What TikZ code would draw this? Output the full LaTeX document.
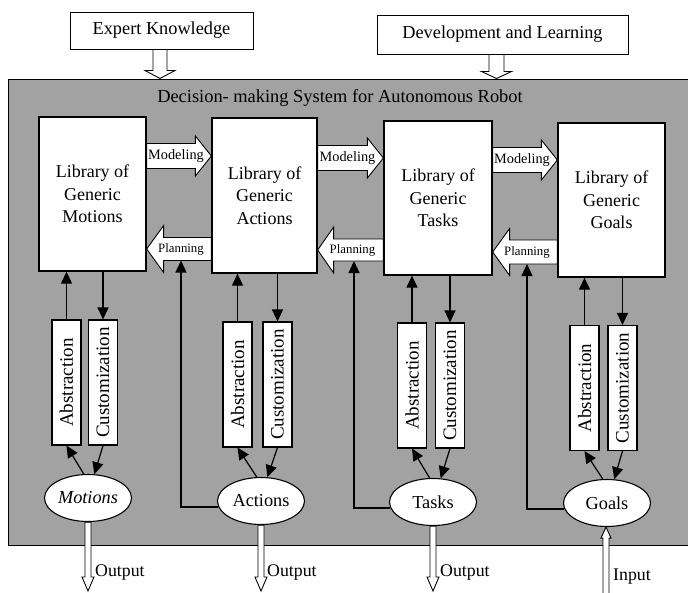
\documentclass[tikz,border=0pt]{standalone}
\usepackage{fontspec}
\usepackage{graphicx}
\setmainfont{Liberation Serif}
\usetikzlibrary{arrows.meta,calc,shapes.geometric}
\definecolor{panelgray}{RGB}{162,162,162}

% open block arrow lying horizontally: tail, tip, signed head length, shaft half-height, head half-height
\newcommand\hblock[5]{%
  \draw[blk] ($(#1)+(0,-#4)$) -- ($(#2)+(#3,-#4)$) -- ($(#2)+(#3,-#5)$) -- (#2)
    -- ($(#2)+(#3,#5)$) -- ($(#2)+(#3,#4)$) -- ($(#1)+(0,#4)$) -- cycle;}
% open block arrow standing vertically: tail, tip, signed head length, shaft half-width, head half-width
\newcommand\vblock[5]{%
  \draw[blk] ($(#1)+(-#4,0)$) -- ($(#2)+(-#4,#3)$) -- ($(#2)+(-#5,#3)$) -- (#2)
    -- ($(#2)+(#5,#3)$) -- ($(#2)+(#4,#3)$) -- ($(#1)+(#4,0)$) -- cycle;}

\begin{document}
\begin{tikzpicture}[x=1pt,y=-1pt,
  blk/.style={draw=black,fill=white,line width=0.9pt,line join=miter},
  srcbox/.style={draw,fill=white,line width=0.9pt,inner sep=0pt,font=\fontsize{18.3}{22}\selectfont},
  libbox/.style={draw,fill=white,line width=1.3pt,inner sep=0pt,align=center,
    minimum width=107pt,minimum height=154pt,font=\fontsize{18}{22.5}\selectfont},
  vbox/.style={draw,fill=white,line width=1.1pt,inner sep=0pt,
    minimum width=29pt,minimum height=125pt,font=\fontsize{19}{22}\selectfont},
  ell/.style={draw,fill=white,ellipse,line width=1.1pt,inner sep=0pt,
    minimum width=87pt,minimum height=47pt,font=\fontsize{18.3}{22}\selectfont},
  link/.style={line width=1.2pt,-{Triangle[length=12pt,width=11pt]}},
  arrlabel/.style={font=\fontsize{14.3}{16}\selectfont,inner sep=0pt},
  planlabel/.style={font=\fontsize{12.8}{15}\selectfont,inner sep=0pt},
  iolabel/.style={anchor=west,inner sep=0pt,font=\fontsize{17.8}{20}\selectfont}]

\useasboundingbox (0,0) rectangle (688,592);

% shaded system panel
\node[draw,fill=panelgray,line width=1pt,minimum width=680pt,minimum height=466pt,inner sep=0pt]
  (panel) at (348,312) {};
\node[font=\fontsize{18.4}{22}\selectfont] (title) at (340,98)
  {Decision- making System for Autonomous Robot};

% knowledge sources
\node[srcbox,minimum width=183pt,minimum height=37pt] (ek) at (161.5,30.5) {Expert Knowledge};
\node[srcbox,minimum width=251pt,minimum height=39pt] (dl) at (502.5,34.5) {Development and Learning};
\coordinate (ekt) at ([xshift=-1.5pt]ek.south);
\coordinate (dlt) at ([xshift=-6pt]dl.south);
\vblock{ekt}{ekt |- panel.north}{-8}{7}{15}
\vblock{dlt}{dlt |- panel.north}{-7}{7.5}{15}

% libraries
\node[libbox] (mot) at (92.5,194) {Library of\\Generic\\Motions};
\node[libbox,minimum width=105pt,minimum height=155pt] (act) at (264.5,195.5) {Library of\\Generic\\Actions};
\node[libbox,minimum width=108pt] (tas) at (438,198) {Library of\\Generic\\Tasks};
\node[libbox] (goa) at (611.5,200) {Library of\\Generic\\Goals};

% modeling arrows
\hblock{mot.east |- 0,156}{act.west |- 0,156}{-16}{12.5}{20}
\hblock{act.east |- 0,158}{tas.west |- 0,158}{-16}{12.5}{20}
\hblock{tas.east |- 0,160}{goa.west |- 0,160}{-16}{12.5}{20}
\node[arrlabel] (m1) at ($(mot.east |- 0,156)!0.5!(act.west |- 0,156)+(-3,0)$) {Modeling};
\node[arrlabel] (m2) at ($(act.east |- 0,158)!0.5!(tas.west |- 0,158)+(-3,0)$) {Modeling};
\node[arrlabel] (m3) at ($(tas.east |- 0,160)!0.5!(goa.west |- 0,160)+(-3,0)$) {Modeling};

% planning arrows
\hblock{act.west |- 0,249}{mot.east |- 0,249}{17}{11.5}{23.5}
\hblock{tas.west |- 0,250}{act.east |- 0,250}{16}{11}{23}
\hblock{goa.west |- 0,252}{tas.east |- 0,252}{17}{12}{23.5}
\node[planlabel] (p1) at ($(act.west |- 0,249)!0.5!(mot.east |- 0,249)+(2,0)$) {Planning};
\node[planlabel] (p2) at ($(tas.west |- 0,250)!0.5!(act.east |- 0,250)+(2,0)$) {Planning};
\node[planlabel] (p3) at ($(goa.west |- 0,252)!0.5!(tas.east |- 0,252)+(2,0)$) {Planning};
\coordinate (pl1) at (181,260.5);
\coordinate (pl2) at (354,261);
\coordinate (pl3) at (527,264);

% abstraction / customization boxes
\node[vbox] (mab) at (66.5,382.5) {\rotatebox{90}{Abstraction}};
\node[vbox] (mcu) at (103,382.5) {\rotatebox{90}{Customization}};
\node[vbox] (aab) at (237.5,384.5) {\rotatebox{90}{Abstraction}};
\node[vbox] (acu) at (277.5,384.5) {\rotatebox{90}{Customization}};
\node[vbox] (tab) at (412,385.5) {\rotatebox{90}{Abstraction}};
\node[vbox] (tcu) at (450,385.5) {\rotatebox{90}{Customization}};
\node[vbox] (gab) at (584.5,388) {\rotatebox{90}{Abstraction}};
\node[vbox] (gcu) at (622.5,388) {\rotatebox{90}{Customization}};

% instances
\node[ell] (mo) at (88,498) {\itshape Motions};
\node[ell] (ac) at (261,501) {Actions};
\node[ell] (ta) at (433,502) {Tasks};
\node[ell] (go) at (607,503) {Goals};

% library <-> abstraction / customization
\draw[link] (mab.north) -- (mab.north |- mot.south);
\draw[link] (mcu.north |- mot.south) -- (mcu.north);
\draw[link] (aab.north) -- (aab.north |- act.south);
\draw[link] (acu.north |- act.south) -- (acu.north);
\draw[link] (tab.north) -- (tab.north |- tas.south);
\draw[link] (tcu.north |- tas.south) -- (tcu.north);
\draw[link] (gab.north) -- (gab.north |- goa.south);
\draw[link] (gcu.north |- goa.south) -- (gcu.north);

% instance <-> abstraction / customization
\draw[link] (mo.100) -- (mab.south);
\draw[link] (mcu.south) -- (mo.75);
\draw[link] (ac.100) -- (aab.south);
\draw[link] (acu.south) -- (ac.75);
\draw[link] (ta.98) -- (tab.south);
\draw[link] (tcu.south) -- (ta.72);
\draw[link] (go.100) -- (gab.south);
\draw[link] (gcu.south) -- (go.73);

% instances feed planning
\draw[link] (ac.188) -| (pl1);
\draw[link] (ta.188) -| (pl2);
\draw[link] (go.188) -| (pl3);

% outputs and input
\vblock{mo.south}{mo.south |- 0,591}{-14}{3}{6}
\vblock{ac.south}{ac.south |- 0,591}{-14}{3}{6}
\vblock{ta.south}{ta.south |- 0,591}{-14}{3}{6}
\coordinate (inp) at ([xshift=-1pt]go.south |- 0,596);
\vblock{inp}{inp |- go.south}{11}{3}{5}
\node[iolabel] (o1) at ($(mo.south |- 0,572)+(7,0)$) {Output};
\node[iolabel] (o2) at ($(ac.south |- 0,572)+(6,0)$) {Output};
\node[iolabel] (o3) at ($(ta.south |- 0,572)+(7,0)$) {Output};
\node[iolabel] (i1) at ($(go.south |- 0,577)+(6,0)$) {Input};
\end{tikzpicture}
\end{document}
